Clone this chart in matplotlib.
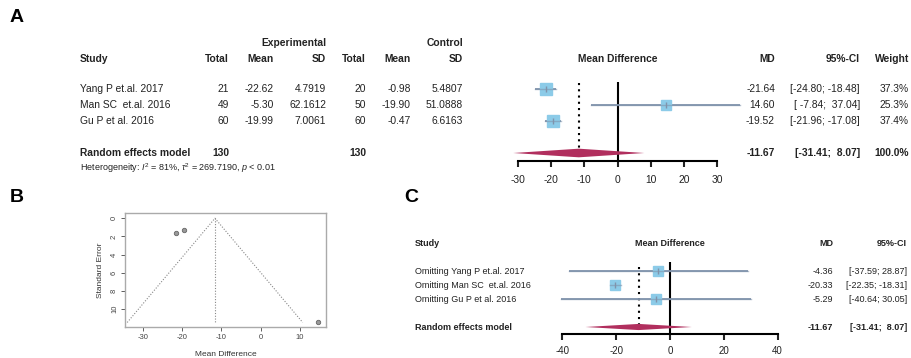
import matplotlib
matplotlib.use("Agg")
import matplotlib.pyplot as plt
import matplotlib.transforms as mtransforms

plt.rcParams["font.family"] = ["Liberation Sans", "DejaVu Sans"]
plt.rcParams["mathtext.fontset"] = "custom"
plt.rcParams["mathtext.rm"] = "Liberation Sans"
plt.rcParams["mathtext.it"] = "Liberation Sans:italic"
plt.rcParams["axes.unicode_minus"] = False

# ---- data (panel A) ----
studies = ["Yang P et.al. 2017", "Man SC  et.al. 2016", "Gu P et al. 2016"]
exp_total = [21, 49, 60]
exp_mean = ["-22.62", "-5.30", "-19.99"]
exp_sd = ["4.7919", "62.1612", "7.0061"]
ctl_total = [20, 50, 60]
ctl_mean = ["-0.98", "-19.90", "-0.47"]
ctl_sd = ["5.4807", "51.0888", "6.6163"]
md = [-21.64, 14.60, -19.52]
ci_lo = [-24.80, -7.84, -21.96]
ci_hi = [-18.48, 37.04, -17.08]
weight = [37.3, 25.3, 37.4]
se = [1.61, 11.45, 1.25]

re_md, re_lo, re_hi = -11.67, -31.41, 8.07
het_text = r"Heterogeneity: $I^2$ = 81%, $\tau^2$ = 269.7190, $p$ < 0.01"

# ---- data (panel C, leave-one-out) ----
omit_labels = ["Omitting Yang P et.al. 2017", "Omitting Man SC  et.al. 2016",
               "Omitting Gu P et al. 2016"]
omit_md = [-4.36, -20.33, -5.29]
omit_lo = [-37.59, -22.35, -40.64]
omit_hi = [28.87, -18.31, 30.05]

W, H = 911, 358
SQ = "#8ccbe8"
CI = "#8093ab"
DIA = "#b12f5e"
FS = 7.4
FSC = 6.5

fig = plt.figure(figsize=(W / 100, H / 100), dpi=100)


def px_axes(x0, x1, y0, y1):
    return fig.add_axes([x0 / W, 1 - y1 / H, (x1 - x0) / W, (y1 - y0) / H])


def forest_axes(x0, x1, y0, y1, zero_px, scale, row0, rowh):
    ax = px_axes(x0, x1, y0, y1)
    ax.set_xlim((x0 - zero_px) / scale, (x1 - zero_px) / scale)
    ax.set_ylim((y1 - row0) / rowh, (y0 - row0) / rowh)
    ax.patch.set_alpha(0)
    for s in ["top", "left", "right"]:
        ax.spines[s].set_visible(False)
    ax.set_yticks([])
    tr = mtransforms.blended_transform_factory(fig.transFigure, ax.transData)
    return ax, tr


def txt(ax, tr, xpx, row, s, ha="right", bold=False, size=FS, **kw):
    ax.text(xpx / W, row, s, transform=tr, ha=ha, va="center", fontsize=size,
            fontweight="bold" if bold else "normal", color="#222222", **kw)


def draw_study(ax, row, est, lo, hi, side_pt):
    ax.plot([lo, hi], [row, row], color=CI, lw=1.3, solid_capstyle="butt", zorder=2)
    ax.plot(est, row, marker="s", ms=side_pt, color=SQ, mec=SQ, zorder=3)
    ax.plot([lo, hi], [row, row], color=CI, lw=1.0, alpha=0.6, zorder=4)
    ax.plot(est, row, marker="|", ms=4, color=CI, mew=1.0, zorder=4)


def draw_diamond(ax, row, est, lo, hi, half):
    ax.fill([lo, est, hi, est], [row, row - half, row, row + half], color=DIA,
            lw=0, zorder=3)


# ================= Panel A =================
fig.text(10 / W, 1 - 18 / H, "A", fontsize=14, fontweight="bold", va="center")
axA, trA = forest_axes(480, 790, 30, 195, 617.5, 3.317, 89, 16)
axA.spines["bottom"].set_position(("data", (161 - 89) / 16))
axA.spines["bottom"].set_bounds(-30, 30)
axA.spines["bottom"].set_linewidth(1.5)
axA.set_xticks([-30, -20, -10, 0, 10, 20, 30])
axA.tick_params(axis="x", direction="out", length=4, width=1.5, pad=6,
                labelsize=FS, colors="#222222")

hdr, sup = (59 - 89) / 16, (43 - 89) / 16
txt(axA, trA, 326, sup, "Experimental", bold=True)
txt(axA, trA, 463, sup, "Control", bold=True)
for xpx, s, ha in [(80, "Study", "left"), (229, "Total", "right"),
                   (274, "Mean", "right"), (326, "SD", "right"),
                   (366, "Total", "right"), (411, "Mean", "right"),
                   (463, "SD", "right"), (617.5, "Mean Difference", "center"),
                   (775, "MD", "right"), (860, "95%-CI", "right"),
                   (909, "Weight", "right")]:
    txt(axA, trA, xpx, hdr, s, ha=ha, bold=True)

for i in range(len(studies)):
    txt(axA, trA, 80, i, studies[i], ha="left")
    txt(axA, trA, 229, i, str(exp_total[i]))
    txt(axA, trA, 274, i, exp_mean[i])
    txt(axA, trA, 326, i, exp_sd[i])
    txt(axA, trA, 366, i, str(ctl_total[i]))
    txt(axA, trA, 411, i, ctl_mean[i])
    txt(axA, trA, 463, i, ctl_sd[i])
    txt(axA, trA, 775, i, f"{md[i]:.2f}")
    txt(axA, trA, 860, i, f"[{ci_lo[i]:6.2f}; {ci_hi[i]:6.2f}]")
    txt(axA, trA, 909, i, f"{weight[i]:.1f}%")
    draw_study(axA, i, md[i], ci_lo[i], ci_hi[i], 2.6 + weight[i] * 0.17)

rA = 4
txt(axA, trA, 80, rA, "Random effects model", ha="left", bold=True)
txt(axA, trA, 229, rA, str(sum(exp_total)), bold=True)
txt(axA, trA, 366, rA, str(sum(ctl_total)), bold=True)
txt(axA, trA, 775, rA, f"{re_md:.2f}", bold=True)
txt(axA, trA, 860, rA, f"[{re_lo:.2f};  {re_hi:.2f}]", bold=True)
txt(axA, trA, 909, rA, "100.0%", bold=True)
txt(axA, trA, 80, (168 - 89) / 16, het_text, ha="left", size=6.5)
draw_diamond(axA, rA, re_md, re_lo, re_hi, 0.27)
axA.vlines(0, (82 - 89) / 16, (161 - 89) / 16, color="black", lw=1.5, zorder=1)
axA.vlines(re_md, (83 - 89) / 16, rA, color="black", lw=1.5,
           linestyles=(0, (1, 2)), zorder=1)

# ================= Panel B (funnel) =================
fig.text(10 / W, 1 - 197 / H, "B", fontsize=14, fontweight="bold", va="center")
axB = px_axes(125, 326, 213, 327)
axB.set_xlim(-34.68, 16.73)
axB.set_ylim(11.95, -0.58)
se_max = max(se)
axB.plot([re_md - 1.96 * se_max, re_md, re_md + 1.96 * se_max],
         [se_max, 0, se_max], color="#888888", lw=0.8, ls=(0, (1, 1.5)))
axB.plot([re_md, re_md], [0, se_max], color="#888888", lw=0.8, ls=(0, (1, 1.5)))
axB.plot(md, se, "o", ms=3.2, color="#999999", mec="#666666", mew=0.6)
axB.set_xticks([-30, -20, -10, 0, 10])
axB.set_yticks([0, 2, 4, 6, 8, 10])
axB.tick_params(labelsize=5.5, length=3, width=0.6, colors="#444444", pad=2)
for lab in axB.get_yticklabels():
    lab.set_rotation(90)
    lab.set_va("center")
for s in axB.spines.values():
    s.set_color("#aaaaaa")
    s.set_linewidth(1.0)
axB.set_ylabel("Standard Error", fontsize=6, color="#333333", labelpad=5)
axB.set_xlabel("Mean Difference", fontsize=6, color="#333333", labelpad=7)

# ================= Panel C =================
fig.text(404 / W, 1 - 197 / H, "C", fontsize=14, fontweight="bold", va="center")
axC, trC = forest_axes(540, 800, 230, 358, 670, 2.69, 271, 14)
axC.spines["bottom"].set_position(("data", (334 - 271) / 14))
axC.spines["bottom"].set_bounds(-40, 40)
axC.spines["bottom"].set_linewidth(1.5)
axC.set_xticks([-40, -20, 0, 20, 40])
axC.tick_params(axis="x", direction="out", length=4, width=1.5, pad=5,
                labelsize=7, colors="#222222")

hC = (244 - 271) / 14
txt(axC, trC, 415, hC, "Study", ha="left", bold=True, size=FSC)
txt(axC, trC, 670, hC, "Mean Difference", ha="center", bold=True, size=FSC)
txt(axC, trC, 833, hC, "MD", bold=True, size=FSC)
txt(axC, trC, 907, hC, "95%-CI", bold=True, size=FSC)
for i in range(len(omit_labels)):
    txt(axC, trC, 415, i, omit_labels[i], ha="left", size=FSC)
    txt(axC, trC, 833, i, f"{omit_md[i]:.2f}", size=FSC)
    txt(axC, trC, 907, i, f"[{omit_lo[i]:.2f}; {omit_hi[i]:.2f}]", size=FSC)
    draw_study(axC, i, omit_md[i], omit_lo[i], omit_hi[i], 6.8)
rC = 4
txt(axC, trC, 415, rC, "Random effects model", ha="left", bold=True, size=FSC)
txt(axC, trC, 833, rC, f"{re_md:.2f}", bold=True, size=FSC)
txt(axC, trC, 907, rC, f"[{re_lo:.2f};  {re_hi:.2f}]", bold=True, size=FSC)
draw_diamond(axC, rC, re_md, re_lo, re_hi, 0.22)
axC.vlines(0, (262 - 271) / 14, (334 - 271) / 14, color="black", lw=1.5, zorder=1)
axC.vlines(re_md, (267 - 271) / 14, rC, color="black", lw=1.5,
           linestyles=(0, (1, 2)), zorder=1)

fig.savefig("out.png", dpi=100)
